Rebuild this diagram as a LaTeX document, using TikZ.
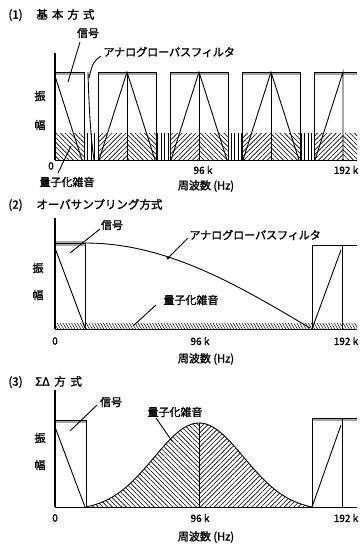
\documentclass[tikz,border=0pt]{standalone}
\usepackage{fontspec}
\newfontfamily\jp{Noto Sans CJK JP}[FakeBold=1.6]
\usetikzlibrary{patterns.meta}
\begin{document}
\begin{tikzpicture}[x=1pt,y=-1pt,line width=0.9pt,
  lbl/.style={font=\jp\fontsize{11}{12}\selectfont,inner sep=0pt},
  ttl/.style={font=\jp\fontsize{11.5}{12}\selectfont,inner sep=0pt,anchor=west},
  num/.style={font=\jp\fontsize{10}{11}\selectfont,inner sep=0pt},
  axisline/.style={line width=1.2pt},
  leader/.style={line width=0.9pt},
  topstrip/.style={fill=black!35},
  hne/.style={pattern={Lines[angle=45,distance=3.3pt,line width=0.6pt]}},
  hnw/.style={pattern={Lines[angle=-45,distance=3.3pt,line width=0.6pt]}},
  hv/.style={pattern={Lines[angle=90,distance=3.5pt,line width=0.45pt]}},
  hsmall/.style={pattern={Lines[angle=-60,distance=2.5pt,line width=0.5pt]}}]
\useasboundingbox (0,0) rectangle (364,544);

%% ---------------- Panel 1 ----------------
\node[ttl] (t1) at (8,15) {(1)\hspace{1.2em}基\hspace{0.35em}本\hspace{0.35em}方\hspace{0.35em}式};
% hatched band
\fill[hnw] (55,133) rectangle (85,160);
\fill[hv] (85,133) rectangle (98,160);
\foreach \p in {127,199,271,343}{
  \fill[hne] ({\p-29},133) rectangle (\p,160);
}
\foreach \p in {127,199,271}{
  \fill[hnw] (\p,133) rectangle ({\p+29},160);
  \fill[hv] ({\p+29},133) rectangle ({\p+43},160);
}
\fill[hnw] (343,133) rectangle (357,160);
% top strips
\fill[topstrip] (55,72) rectangle (85,75);
\foreach \p in {127,199,271}{
  \fill[topstrip] ({\p-29},72) rectangle ({\p+29},75);
}
\fill[topstrip] (314,72) rectangle (357,75);
% baseband box + signal + filter edge
\draw (55,72) -- (84,72) -- (84,160);
\draw (55,76) -- (82,160);
\draw (88,72) .. controls (89,110) and (91,140) .. (94,160);
% image boxes and triangles
\foreach \p in {127,199,271}{
  \draw ({\p-29},160) -- ({\p-29},72) -- ({\p+29},72) -- ({\p+29},160);
  \draw ({\p-28},160) -- (\p,72) -- ({\p+28},160);
  \draw (\p,72) -- (\p,160);
}
\draw (314,160) -- (314,72) -- (357,72);
\draw (315,160) -- (343,72) -- (343,160);
% axes
\draw[axisline] (55,53) -- (55,160);
\draw (55,160) -- (357,160);
% labels
\node[lbl] (sig1) at (88,33) {信号};
\coordinate (sig1a) at (80,42);
\coordinate (sig1b) at (68,82);
\draw[leader] (sig1a) -- (sig1b);
\node[lbl,anchor=west] (lpf1) at (103,52) {アナログローパスフィルタ};
\coordinate (lpf1a) at (101,56);
\coordinate (lpf1b) at (89,78);
\draw[leader] (lpf1a) .. controls (93,62) .. (lpf1b);
\node[lbl] (qn1) at (67,182) {量子化雑音};
\coordinate (qn1a) at (58,173);
\coordinate (qn1b) at (71,146);
\draw[leader] (qn1a) -- (qn1b);
\node[lbl] (a1) at (40,96) {振};
\node[lbl] (b1) at (40,125) {幅};
\node[num] (z1) at (51,166) {0};
\node[num] (m1) at (203,170) {96 k};
\node[num] (r1) at (346,170) {192 k};
\node[lbl] (f1) at (206,186) {周波数 (Hz)};

%% ---------------- Panel 2 ----------------
\node[ttl] (t2) at (8,205) {(2)\hspace{1.2em}オーバサンプリング方式};
\fill[hsmall] (55,323) rectangle (357,329);
\fill[topstrip] (55,241) rectangle (85,246);
\draw (55,243) -- (85,243) -- (85,329);
\draw (55,248) -- (85,328);
\draw plot[domain=85:310,samples=60] (\x,{243+85*(1-cos(0.4*(\x-85)))});
\draw (312,329) -- (312,245) -- (357,245);
\draw (342,245) -- (342,329);
\draw (312,329) -- (341,250);
\draw[axisline] (55,218) -- (55,329);
\draw (55,329) -- (357,329);
\node[lbl] (sig2) at (112,225) {信号};
\coordinate (sig2a) at (100,229);
\coordinate (sig2b) at (70,253);
\draw[leader] (sig2a) -- (sig2b);
\node[lbl,anchor=west] (lpf2) at (189,235) {アナログローパスフィルタ};
\coordinate (lpf2a) at (188,238);
\coordinate (lpf2b) at (168,258);
\draw[leader] (lpf2a) -- (lpf2b);
\fill (lpf2b) circle (1.6);
\node[lbl] (qn2) at (191,300) {量子化雑音};
\coordinate (qn2a) at (156,305);
\coordinate (qn2b) at (133,326);
\draw[leader] (qn2a) -- (qn2b);
\node[lbl] (a2) at (38,268) {振};
\node[lbl] (b2) at (38,295) {幅};
\node[num] (z2) at (55,341) {0};
\node[num] (m2) at (200,341) {96 k};
\node[num] (r2) at (346,341) {192 k};
\node[lbl] (f2) at (206,359) {周波数 (Hz)};

%% ---------------- Panel 3 ----------------
\node[ttl] (t3) at (8,382) {(3)\hspace{1.1em}ΣΔ\hspace{0.4em}方\hspace{0.4em}式};
\fill[hnw] (86,507) -- plot[domain=86:199,samples=50] (\x,{507-84*(exp(-((\x-199)/45)*((\x-199)/45)/2)-0.0427)/0.9573}) -- (199,507) -- cycle;
\fill[hne] (199,507) -- plot[domain=199:312,samples=50] (\x,{507-84*(exp(-((\x-199)/45)*((\x-199)/45)/2)-0.0427)/0.9573}) -- (312,507) -- cycle;
\draw plot[domain=86:312,samples=100] (\x,{507-84*(exp(-((\x-199)/45)*((\x-199)/45)/2)-0.0427)/0.9573});
\draw (199,423) -- (199,507);
\fill[topstrip] (55,420) rectangle (86,423);
\draw (55,420) -- (86,420) -- (86,507);
\draw (55,427) -- (85,507);
\fill[topstrip] (312,418) rectangle (357,421);
\draw (312,507) -- (312,418) -- (357,418);
\draw (342,418) -- (342,507);
\draw (312,507) -- (341,425);
\draw[axisline] (55,390) -- (55,507);
\draw (55,507) -- (357,507);
\node[lbl] (sig3) at (111,402) {信号};
\coordinate (sig3a) at (97,405);
\coordinate (sig3b) at (70,431);
\draw[leader] (sig3a) -- (sig3b);
\node[lbl] (qn3) at (175,412) {量子化雑音};
\coordinate (qn3a) at (156,418);
\coordinate (qn3b) at (172,441);
\draw[leader] (qn3a) -- (qn3b);
\node[lbl] (a3) at (40,438) {振};
\node[lbl] (b3) at (40,465) {幅};
\node[num] (z3) at (55,518) {0};
\node[num] (m3) at (200,518) {96 k};
\node[num] (r3) at (346,518) {192 k};
\node[lbl] (f3) at (206,537) {周波数 (Hz)};
\end{tikzpicture}
\end{document}
